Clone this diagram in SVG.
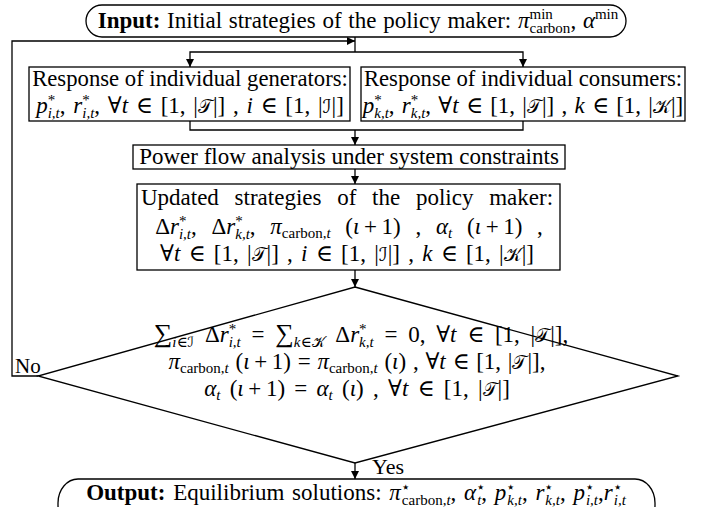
<svg xmlns="http://www.w3.org/2000/svg" width="713" height="507" viewBox="0 0 713 507">
<style>
  .bg { fill: #ffffff; }
  .box { fill: #ffffff; stroke: #000000; stroke-width: 1.3; }
  .t { font-family: "Liberation Serif", "DejaVu Serif", serif; font-size: 23px; fill: #000000; }
  .c { text-anchor: middle; }
  .i { font-style: italic; }
  .b { font-weight: bold; }
  .s { font-size: 15px; }
  .cal { font-family: "DejaVu Sans", "DejaVu Serif", serif; font-size: 19px; }
  .sum { font-size: 26px; }
  .line { fill: none; stroke: #000000; stroke-width: 1.3; }
</style>
<defs>
  <marker id="arr" markerUnits="userSpaceOnUse" markerWidth="10" markerHeight="10" refX="8" refY="4" orient="auto">
    <path d="M0,0 L8,4 L0,8 Z" fill="#000000"/>
  </marker>
</defs>
<rect class="bg" x="0" y="0" width="713" height="507"/>

<g id="connectors">
  <path class="line" d="M355,37 V52"/>
  <path class="line" d="M38,376 H12 V41 H355" marker-end="url(#arr)"/>
  <path class="line" d="M355,52 H190 V67" marker-end="url(#arr)"/>
  <path class="line" d="M355,52 H523 V67" marker-end="url(#arr)"/>
  <path class="line" d="M190,121 V130 H523 V121"/>
  <path class="line" d="M355,130 V145" marker-end="url(#arr)"/>
  <path class="line" d="M355,169 V184" marker-end="url(#arr)"/>
  <path class="line" d="M355,270 V287" marker-end="url(#arr)"/>
  <path class="line" d="M355,463 V479" marker-end="url(#arr)"/>
  <text class="t" x="15" y="373" style="font-size:21px">No</text>
  <text class="t" x="372" y="474" style="font-size:22px">Yes</text>
</g>

<g id="input">
  <rect class="box" x="86" y="5" width="540" height="32" rx="16" ry="16"/>
  <text class="t c" x="358" y="28" style="word-spacing:1px"><tspan class="b">Input:</tspan> Initial strategies of the policy maker: <tspan class="i">π</tspan><tspan class="s" dy="-9">min</tspan><tspan class="s" dx="-23.3" dy="14">carbon</tspan><tspan dy="-5">, </tspan><tspan class="i">α</tspan><tspan class="s" dy="-9">min</tspan></text>
</g>

<g id="generators">
  <rect class="box" x="29" y="67" width="321" height="54"/>
  <text class="t c" x="190" y="86" style="font-size:22.7px">Response of individual generators:</text>
  <text class="t c" x="190" y="113" style="word-spacing:2px"><tspan class="i">p</tspan><tspan class="s" dy="-8">*</tspan><tspan class="s i" dx="-7.5" dy="13">i,t</tspan><tspan dy="-5">, </tspan><tspan class="i">r</tspan><tspan class="s" dy="-8">*</tspan><tspan class="s i" dx="-7.5" dy="13">i,t</tspan><tspan dy="-5">, ∀</tspan><tspan class="i">t</tspan> ∈ [1, |<tspan class="cal">𝒯</tspan>|] , <tspan class="i">i</tspan> ∈ [1, |<tspan class="cal">ℐ</tspan>|]</text>
</g>

<g id="consumers">
  <rect class="box" x="361" y="67" width="324" height="54"/>
  <text class="t c" x="523" y="86" style="font-size:22.7px">Response of individual consumers:</text>
  <text class="t c" x="523" y="113" style="word-spacing:1.5px"><tspan class="i">p</tspan><tspan class="s" dy="-8">*</tspan><tspan class="s i" dx="-7.5" dy="13">k,t</tspan><tspan dy="-5">, </tspan><tspan class="i">r</tspan><tspan class="s" dy="-8">*</tspan><tspan class="s i" dx="-7.5" dy="13">k,t</tspan><tspan dy="-5">, ∀</tspan><tspan class="i">t</tspan> ∈ [1, |<tspan class="cal">𝒯</tspan>|] , <tspan class="i">k</tspan> ∈ [1, |<tspan class="cal">𝒦</tspan>|]</text>
</g>

<g id="powerflow">
  <rect class="box" x="133" y="145" width="432" height="24"/>
  <text class="t c" x="349" y="164">Power flow analysis under system constraints</text>
</g>

<g id="updated">
  <rect class="box" x="137" y="184" width="423" height="86"/>
  <text class="t c" x="347" y="205" style="word-spacing:10px">Updated strategies of the policy maker:</text>
  <text class="t c" x="349" y="234" style="word-spacing:9px">Δ<tspan class="i">r</tspan><tspan class="s" dy="-8">*</tspan><tspan class="s i" dx="-7.5" dy="13">i,t</tspan><tspan dy="-5">, Δ</tspan><tspan class="i">r</tspan><tspan class="s" dy="-8">*</tspan><tspan class="s i" dx="-7.5" dy="13">k,t</tspan><tspan dy="-5">, </tspan><tspan class="i">π</tspan><tspan class="s" dy="4">carbon,<tspan class="i">t</tspan></tspan><tspan dy="-4"> (</tspan><tspan class="i">ι</tspan>&#8201;+&#8201;1) , <tspan class="i">α</tspan><tspan class="s i" dy="4">t</tspan><tspan dy="-4"> (</tspan><tspan class="i">ι</tspan>&#8201;+&#8201;1) ,</text>
  <text class="t c" x="347" y="261" style="word-spacing:2.5px">∀<tspan class="i">t</tspan> ∈ [1, |<tspan class="cal">𝒯</tspan>|] , <tspan class="i">i</tspan> ∈ [1, |<tspan class="cal">ℐ</tspan>|] , <tspan class="i">k</tspan> ∈ [1, |<tspan class="cal">𝒦</tspan>|]</text>
</g>

<g id="decision">
  <path class="box" d="M355,287 L678,376 L355,463 L38,376 Z"/>
  <text class="t c" x="361" y="342" style="word-spacing:5px"><tspan class="sum">∑</tspan><tspan class="s" dy="5"><tspan class="i">i</tspan>∈<tspan class="cal" style="font-size:14px">ℐ</tspan></tspan><tspan dy="-5"> Δ</tspan><tspan class="i">r</tspan><tspan class="s" dy="-8">*</tspan><tspan class="s i" dx="-7.5" dy="13">i,t</tspan><tspan dy="-5"> = </tspan><tspan class="sum">∑</tspan><tspan class="s" dy="5"><tspan class="i">k</tspan>∈<tspan class="cal" style="font-size:14px">𝒦</tspan></tspan><tspan dy="-5"> Δ</tspan><tspan class="i">r</tspan><tspan class="s" dy="-8">*</tspan><tspan class="s i" dx="-7.5" dy="13">k,t</tspan><tspan dy="-5"> = 0, ∀</tspan><tspan class="i">t</tspan> ∈ [1, |<tspan class="cal">𝒯</tspan>|],</text>
  <text class="t c" x="357" y="369" style="word-spacing:1px"><tspan class="i">π</tspan><tspan class="s" dy="4">carbon,<tspan class="i">t</tspan></tspan><tspan dy="-4"> (</tspan><tspan class="i">ι</tspan>&#8201;+&#8201;1) = <tspan class="i">π</tspan><tspan class="s" dy="4">carbon,<tspan class="i">t</tspan></tspan><tspan dy="-4"> (</tspan><tspan class="i">ι</tspan>) , ∀<tspan class="i">t</tspan> ∈ [1, |<tspan class="cal">𝒯</tspan>|],</text>
  <text class="t c" x="357" y="396" style="word-spacing:3.5px"><tspan class="i">α</tspan><tspan class="s i" dy="4">t</tspan><tspan dy="-4"> (</tspan><tspan class="i">ι</tspan>&#8201;+&#8201;1) = <tspan class="i">α</tspan><tspan class="s i" dy="4">t</tspan><tspan dy="-4"> (</tspan><tspan class="i">ι</tspan>) , ∀<tspan class="i">t</tspan> ∈ [1, |<tspan class="cal">𝒯</tspan>|]</text>
</g>

<g id="output">
  <rect class="box" x="58" y="479" width="597" height="50" rx="20" ry="24"/>
  <text class="t c" x="356" y="500" style="word-spacing:2px"><tspan class="b">Output:</tspan> Equilibrium solutions: <tspan class="i">π</tspan><tspan class="s" dy="-8">⋆</tspan><tspan class="s" dx="-8" dy="13">carbon,<tspan class="i">t</tspan></tspan><tspan dy="-5">, </tspan><tspan class="i">α</tspan><tspan class="s" dy="-8">⋆</tspan><tspan class="s i" dx="-8" dy="13">t</tspan><tspan dy="-5">, </tspan><tspan class="i">p</tspan><tspan class="s" dy="-8">⋆</tspan><tspan class="s i" dx="-8" dy="13">k,t</tspan><tspan dy="-5">, </tspan><tspan class="i">r</tspan><tspan class="s" dy="-8">⋆</tspan><tspan class="s i" dx="-8" dy="13">k,t</tspan><tspan dy="-5">, </tspan><tspan class="i">p</tspan><tspan class="s" dy="-8">⋆</tspan><tspan class="s i" dx="-8" dy="13">i,t</tspan><tspan dy="-5">,</tspan><tspan class="i">r</tspan><tspan class="s" dy="-8">⋆</tspan><tspan class="s i" dx="-8" dy="13">i,t</tspan></text>
</g>
</svg>
